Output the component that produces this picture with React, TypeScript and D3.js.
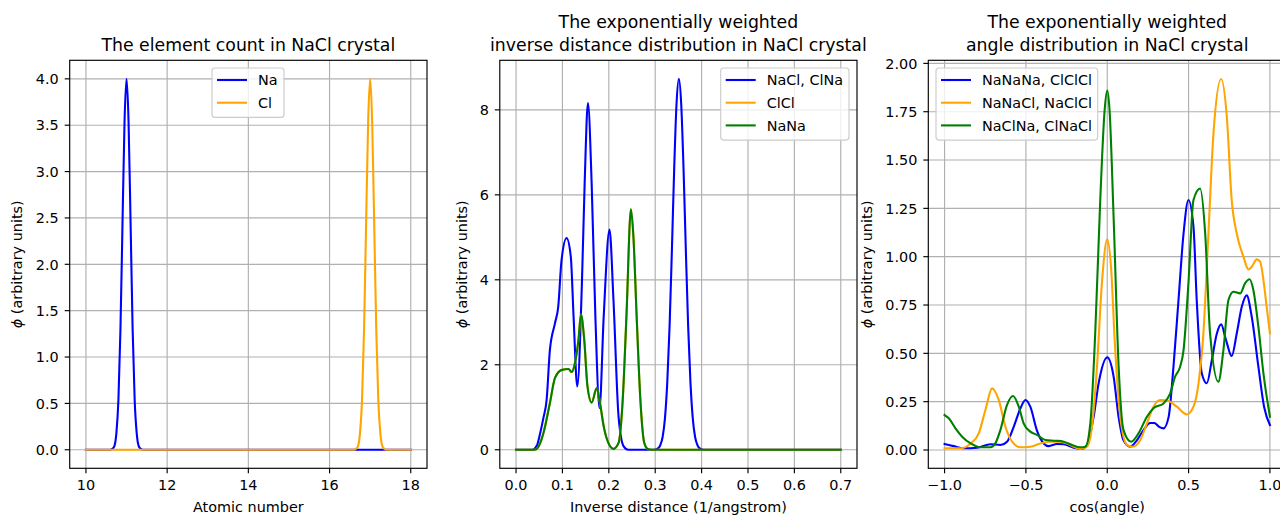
import React from "react";
import * as d3 from "d3";

// ---------- Panel 1: element count ----------
const naX = [10, 10.6, 10.65, 10.7, 10.75, 10.8, 10.85, 10.9, 10.95, 11, 11.05, 11.1, 11.15, 11.2, 11.25, 11.3, 11.35, 11.4, 18];
const naY = [0, 0, 0.01, 0.04, 0.18, 0.54, 1.3, 2.43, 3.53, 4.0, 3.53, 2.43, 1.3, 0.54, 0.18, 0.04, 0.01, 0, 0];
const clX = [10, 16.6, 16.65, 16.7, 16.75, 16.8, 16.85, 16.9, 16.95, 17, 17.05, 17.1, 17.15, 17.2, 17.25, 17.3, 17.35, 17.4, 18];
const clY = [0, 0, 0.01, 0.04, 0.18, 0.54, 1.3, 2.43, 3.53, 4.0, 3.53, 2.43, 1.3, 0.54, 0.18, 0.04, 0.01, 0, 0];
const p1XTicks = [10, 12, 14, 16, 18];
const p1YTicks = [0, 0.5, 1, 1.5, 2, 2.5, 3, 3.5, 4];

// ---------- Panel 2: inverse distance ----------
const naclX = [0, 0.035, 0.045, 0.052, 0.059, 0.066, 0.073, 0.084, 0.091, 0.098, 0.109, 0.118, 0.124, 0.132, 0.142, 0.148, 0.155, 0.163, 0.171, 0.18, 0.189, 0.2015, 0.21, 0.221, 0.232, 0.242, 0.298, 0.306, 0.311, 0.316, 0.321, 0.326, 0.331, 0.336, 0.341, 0.346, 0.351, 0.356, 0.361, 0.366, 0.371, 0.376, 0.381, 0.386, 0.391, 0.396, 0.404, 0.7];
const naclY = [0, 0, 0.1, 0.39, 0.75, 1.18, 2.35, 2.98, 3.37, 4.45, 4.98, 4.55, 3.14, 1.49, 3.92, 6.3, 8.16, 6.27, 3.14, 0.98, 3.14, 5.18, 3.53, 0.78, 0.08, 0, 0, 0.03, 0.11, 0.3, 0.74, 1.58, 2.91, 4.71, 6.64, 8.15, 8.73, 8.15, 6.64, 4.71, 2.91, 1.58, 0.74, 0.3, 0.11, 0.03, 0, 0];
const nanaX = [0, 0.04, 0.047, 0.059, 0.073, 0.084, 0.099, 0.113, 0.12, 0.127, 0.1346, 0.14, 0.147, 0.154, 0.163, 0.174, 0.181, 0.189, 0.199, 0.21, 0.221, 0.23, 0.238, 0.2477, 0.253, 0.26, 0.268, 0.2765, 0.284, 0.292, 0.7];
const nanaY = [0, 0, 0.05, 0.39, 1.1, 1.69, 1.88, 1.9, 1.83, 2.04, 2.59, 3.18, 2.59, 1.49, 1.11, 1.45, 1.1, 0.55, 0.16, 0.02, 0.16, 1.18, 3.14, 5.66, 5.02, 3.14, 1.18, 0.16, 0.02, 0, 0];
const clclX = nanaX;
const clclY = nanaY;
const p2XTicks = [0, 0.1, 0.2, 0.3, 0.4, 0.5, 0.6, 0.7];
const p2YTicks = [0, 2, 4, 6, 8];

// ---------- Panel 3: angle distribution ----------
const nananaX = [-1.0, -0.945, -0.882, -0.8, -0.718, -0.657, -0.616, -0.575, -0.534, -0.503, -0.473, -0.432, -0.391, -0.36, -0.309, -0.268, -0.207, -0.156, -0.125, -0.084, -0.053, 0.0, 0.039, 0.07, 0.1, 0.141, 0.182, 0.223, 0.264, 0.289, 0.319, 0.346, 0.377, 0.407, 0.438, 0.469, 0.499, 0.53, 0.55, 0.581, 0.612, 0.643, 0.673, 0.7, 0.73, 0.765, 0.796, 0.827, 0.857, 0.888, 0.929, 0.964, 1.0];
const nananaY = [0.031, 0.02, 0.009, 0.012, 0.03, 0.026, 0.043, 0.12, 0.215, 0.259, 0.224, 0.1, 0.034, 0.02, 0.031, 0.03, 0.012, 0.005, 0.026, 0.17, 0.345, 0.479, 0.38, 0.17, 0.05, 0.017, 0.05, 0.103, 0.14, 0.14, 0.12, 0.112, 0.17, 0.43, 0.776, 1.12, 1.293, 1.155, 0.776, 0.397, 0.345, 0.466, 0.6, 0.65, 0.569, 0.486, 0.603, 0.741, 0.8, 0.69, 0.431, 0.224, 0.129];
const nanaclX = [-1.0, -0.9, -0.84, -0.79, -0.749, -0.708, -0.667, -0.626, -0.585, -0.534, -0.473, -0.411, -0.35, -0.289, -0.227, -0.166, -0.125, -0.094, -0.063, -0.033, 0.0, 0.023, 0.049, 0.08, 0.121, 0.158, 0.203, 0.244, 0.284, 0.325, 0.377, 0.428, 0.489, 0.53, 0.561, 0.591, 0.622, 0.653, 0.7, 0.735, 0.765, 0.796, 0.837, 0.868, 0.888, 0.919, 0.94, 0.96, 0.98, 1.0];
const nanaclY = [0.009, 0.009, 0.034, 0.086, 0.207, 0.319, 0.259, 0.12, 0.043, 0.014, 0.017, 0.034, 0.043, 0.043, 0.026, 0.005, 0.017, 0.12, 0.43, 0.862, 1.09, 0.948, 0.517, 0.172, 0.026, 0.017, 0.052, 0.138, 0.224, 0.259, 0.253, 0.224, 0.184, 0.224, 0.345, 0.603, 1.12, 1.638, 1.919, 1.724, 1.293, 1.12, 1.0, 0.934, 0.948, 0.986, 0.974, 0.879, 0.741, 0.603];
const naclnaX = [-1.0, -0.974, -0.933, -0.892, -0.84, -0.78, -0.718, -0.688, -0.657, -0.616, -0.579, -0.544, -0.514, -0.473, -0.432, -0.38, -0.319, -0.268, -0.217, -0.166, -0.135, -0.104, -0.074, -0.043, -0.016, 0.0, 0.014, 0.039, 0.07, 0.1, 0.147, 0.192, 0.244, 0.284, 0.346, 0.387, 0.417, 0.448, 0.469, 0.499, 0.53, 0.571, 0.602, 0.632, 0.683, 0.714, 0.745, 0.776, 0.817, 0.847, 0.874, 0.898, 0.929, 0.96, 1.0];
const naclnaY = [0.181, 0.164, 0.112, 0.069, 0.034, 0.014, 0.014, 0.034, 0.103, 0.233, 0.279, 0.224, 0.138, 0.095, 0.078, 0.052, 0.048, 0.043, 0.026, 0.014, 0.017, 0.138, 0.603, 1.293, 1.759, 1.859, 1.76, 1.207, 0.431, 0.103, 0.043, 0.086, 0.172, 0.216, 0.241, 0.293, 0.379, 0.431, 0.517, 0.862, 1.293, 1.353, 1.12, 0.603, 0.353, 0.517, 0.776, 0.819, 0.81, 0.862, 0.883, 0.828, 0.638, 0.397, 0.172];
const p3XTicks = [-1, -0.5, 0, 0.5, 1];
const p3YTicks = [0, 0.25, 0.5, 0.75, 1, 1.25, 1.5, 1.75, 2];

const FONT = "'DejaVu Sans', sans-serif";
const TICK_FS = 14.4;
const TITLE_FS = 17.3;
const LW = 2.1;
const AX_TOP = 60.3;
const AX_BOTTOM = 468.3;

type Series = { label: string; color: string; x: number[]; y: number[] };

type PanelProps = {
  id: string;
  left: number;
  right: number;
  xDomain: [number, number];
  yDomain: [number, number];
  xTicks: number[];
  yTicks: number[];
  xFmt: (v: number) => string;
  yFmt: (v: number) => string;
  series: Series[];
  title: string[];
  xLabel: string;
  yLabelX: number;
  legendLeft: number;
  legendWidth: number;
};

function Panel(p: PanelProps) {
  const x = d3.scaleLinear().domain(p.xDomain).range([p.left, p.right]);
  const y = d3.scaleLinear().domain(p.yDomain).range([AX_BOTTOM, AX_TOP]);
  const line = d3
    .line<[number, number]>()
    .x((d) => x(d[0]))
    .y((d) => y(d[1]))
    .curve(d3.curveMonotoneX);
  const cx = (p.left + p.right) / 2;
  const cy = (AX_TOP + AX_BOTTOM) / 2;
  const titleBase = p.title.length === 1 ? [50.5] : [28, 50.5];
  const legTop = 68;
  const legH = 4 + 22.7 * p.series.length;
  return (
    <g>
      <defs>
        <clipPath id={`clip-${p.id}`}>
          <rect x={p.left} y={AX_TOP} width={p.right - p.left} height={AX_BOTTOM - AX_TOP} />
        </clipPath>
      </defs>
      <rect x={p.left} y={AX_TOP} width={p.right - p.left} height={AX_BOTTOM - AX_TOP} fill="white" />
      <g stroke="#b0b0b0" strokeWidth={1.15}>
        {p.xTicks.map((t) => (
          <line key={`gx${t}`} x1={x(t)} x2={x(t)} y1={AX_TOP} y2={AX_BOTTOM} />
        ))}
        {p.yTicks.map((t) => (
          <line key={`gy${t}`} x1={p.left} x2={p.right} y1={y(t)} y2={y(t)} />
        ))}
      </g>
      <g clipPath={`url(#clip-${p.id})`}>
        {p.series.map((s) => (
          <path
            key={s.label}
            d={line(s.x.map((v, i) => [v, s.y[i]] as [number, number])) || ""}
            fill="none"
            stroke={s.color}
            strokeWidth={LW}
            strokeLinejoin="round"
            strokeLinecap="square"
          />
        ))}
      </g>
      <rect
        x={p.left}
        y={AX_TOP}
        width={p.right - p.left}
        height={AX_BOTTOM - AX_TOP}
        fill="none"
        stroke="#000"
        strokeWidth={1.15}
      />
      <g stroke="#000" strokeWidth={1.15}>
        {p.xTicks.map((t) => (
          <line key={`tx${t}`} x1={x(t)} x2={x(t)} y1={AX_BOTTOM} y2={AX_BOTTOM + 5} />
        ))}
        {p.yTicks.map((t) => (
          <line key={`ty${t}`} x1={p.left - 5} x2={p.left} y1={y(t)} y2={y(t)} />
        ))}
      </g>
      <g fontFamily={FONT} fontSize={TICK_FS} fill="#000">
        {p.xTicks.map((t) => (
          <text key={`lx${t}`} x={x(t)} y={490} textAnchor="middle">
            {p.xFmt(t)}
          </text>
        ))}
        {p.yTicks.map((t) => (
          <text key={`ly${t}`} x={p.left - 11} y={y(t) + 5.2} textAnchor="end">
            {p.yFmt(t)}
          </text>
        ))}
        <text x={cx} y={511.5} textAnchor="middle">
          {p.xLabel}
        </text>
        <text
          transform={`translate(${p.yLabelX + 5},${cy}) rotate(-90)`}
          textAnchor="middle"
        >
          <tspan fontStyle="italic">{"\u03D5"}</tspan>
          {" (arbitrary units)"}
        </text>
      </g>
      <g fontFamily={FONT} fontSize={TITLE_FS} fill="#000">
        {p.title.map((t, i) => (
          <text key={t} x={cx} y={titleBase[i]} textAnchor="middle">
            {t}
          </text>
        ))}
      </g>
      <g>
        <rect
          x={p.legendLeft}
          y={legTop}
          width={p.legendWidth}
          height={legH}
          rx={3}
          fill="white"
          fillOpacity={0.8}
          stroke="#cccccc"
          strokeWidth={1.15}
        />
        {p.series.map((s, i) => {
          const ry = AX_TOP + 19.7 + i * 22.7;
          return (
            <g key={`leg${s.label}`}>
              <line
                x1={p.legendLeft + 5}
                x2={p.legendLeft + 35}
                y1={ry}
                y2={ry}
                stroke={s.color}
                strokeWidth={LW}
              />
              <text
                x={p.legendLeft + 46}
                y={ry + 5.2}
                fontFamily={FONT}
                fontSize={TICK_FS}
                fill="#000"
              >
                {s.label}
              </text>
            </g>
          );
        })}
      </g>
    </g>
  );
}

export default function App() {
  const f1 = d3.format(".1f");
  const f0 = d3.format("d");
  const f2 = d3.format(".2f");
  return (
    <svg
      width={1280}
      height={515}
      style={{ position: "absolute", left: 0, top: 0, background: "white" }}
    >
      <rect x={0} y={0} width={1280} height={515} fill="white" />
      <Panel
        id="p1"
        left={69.7}
        right={427}
        xDomain={[9.6, 18.4]}
        yDomain={[-0.2, 4.2]}
        xTicks={p1XTicks}
        yTicks={p1YTicks}
        xFmt={f0}
        yFmt={f1}
        series={[
          { label: "Na", color: "blue", x: naX, y: naY },
          { label: "Cl", color: "orange", x: clX, y: clY },
        ]}
        title={["The element count in NaCl crystal"]}
        xLabel="Atomic number"
        yLabelX={17}
        legendLeft={212}
        legendWidth={72}
      />
      <Panel
        id="p2"
        left={499.8}
        right={857}
        xDomain={[-0.035, 0.735]}
        yDomain={[-0.4365, 9.1665]}
        xTicks={p2XTicks}
        yTicks={p2YTicks}
        xFmt={f1}
        yFmt={f0}
        series={[
          { label: "NaCl, ClNa", color: "blue", x: naclX, y: naclY },
          { label: "ClCl", color: "orange", x: clclX, y: clclY },
          { label: "NaNa", color: "green", x: nanaX, y: nanaY },
        ]}
        title={["The exponentially weighted", "inverse distance distribution in NaCl crystal"]}
        xLabel="Inverse distance (1/angstrom)"
        yLabelX={462}
        legendLeft={720.7}
        legendWidth={128.3}
      />
      <Panel
        id="p3"
        left={928.3}
        right={1286.2}
        xDomain={[-1.1, 1.1]}
        yDomain={[-0.0947, 2.016]}
        xTicks={p3XTicks}
        yTicks={p3YTicks}
        xFmt={f1}
        yFmt={f2}
        series={[
          { label: "NaNaNa, ClClCl", color: "blue", x: nananaX, y: nananaY },
          { label: "NaNaCl, NaClCl", color: "orange", x: nanaclX, y: nanaclY },
          { label: "NaClNa, ClNaCl", color: "green", x: naclnaX, y: naclnaY },
        ]}
        title={["The exponentially weighted", "angle distribution in NaCl crystal"]}
        xLabel="cos(angle)"
        yLabelX={867}
        legendLeft={936}
        legendWidth={161.7}
      />
    </svg>
  );
}
